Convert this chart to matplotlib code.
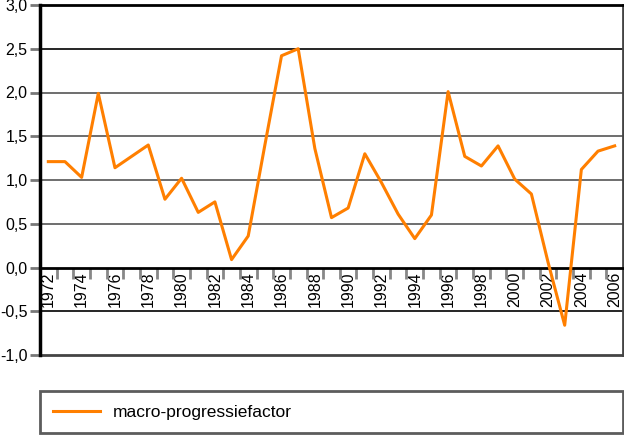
import numpy as np
import matplotlib.pyplot as plt
from matplotlib.ticker import FuncFormatter

plt.rcParams['font.family'] = ['Liberation Sans', 'DejaVu Sans']

years = list(range(1972, 2007))
waarden = [1.21, 1.21, 1.03, 1.99, 1.14, 1.27, 1.40, 0.78, 1.02, 0.63,
           0.75, 0.09, 0.36, 1.40, 2.42, 2.50, 1.36, 0.57, 0.68, 1.30,
           0.97, 0.61, 0.33, 0.60, 2.01, 1.27, 1.16, 1.39, 1.01, 0.84,
           0.06, -0.66, 1.12, 1.33, 1.39]
yticks = np.arange(-1.0, 3.01, 0.5)
oranje = '#ff7f00'

fig = plt.figure(figsize=(6.24, 4.37), dpi=100)
ax = fig.add_axes([40/624, 1-355/437, 583/624, 350/437])

x = np.arange(len(years))
ax.plot(x, waarden, color=oranje, lw=2.2, zorder=5, label='macro-progressiefactor')

# rasterlijnen
for v in yticks:
    if v in (0.0, 3.0, -1.0):
        continue
    kleur = '#000000' if v in (2.5, -0.5) else '#555555'
    ax.axhline(v, color=kleur, lw=1.2, zorder=1)
ax.axhline(-1.0, color='#444444', lw=2, zorder=1, clip_on=False)

ax.set_xlim(-0.5, len(years)-0.5)
ax.set_ylim(-1.0, 3.0)

ax.spines['bottom'].set_position(('data', 0))
ax.spines['bottom'].set_linewidth(2)
ax.spines['bottom'].set_color('black')
ax.spines['left'].set_linewidth(2.5)
ax.spines['left'].set_color('black')
ax.spines['top'].set_linewidth(2)
ax.spines['top'].set_color('black')
ax.spines['right'].set_linewidth(2)
ax.spines['right'].set_color('#444444')

ax.set_yticks(yticks)
ax.yaxis.set_major_formatter(FuncFormatter(lambda v, p: f'{v:.1f}'.replace('.', ',')))
ax.tick_params(axis='y', direction='out', length=7.5, width=2, color='#777777',
               labelsize=11.5, pad=1.5)

ax.set_xticks(x[::2])
ax.set_xticklabels([str(j) for j in years[::2]], rotation=90)
ax.set_xticks(np.arange(0.5, len(years)-1, 1), minor=True)
ax.tick_params(axis='x', which='major', length=0, labelsize=11.5, pad=3)
ax.tick_params(axis='x', which='minor', direction='out', length=8, width=2,
               color='#888888')

leg = fig.legend(loc='center left', bbox_to_anchor=(40/624, 1/437, 583/624, 48/437),
                 mode='expand', fontsize=12.5, handlelength=2.7, frameon=True,
                 fancybox=False, borderpad=0.75, borderaxespad=0,
                 handletextpad=0.75)
leg.get_frame().set_edgecolor('#333333')
leg.get_frame().set_linewidth(2)

fig.savefig('out.png', dpi=100)
